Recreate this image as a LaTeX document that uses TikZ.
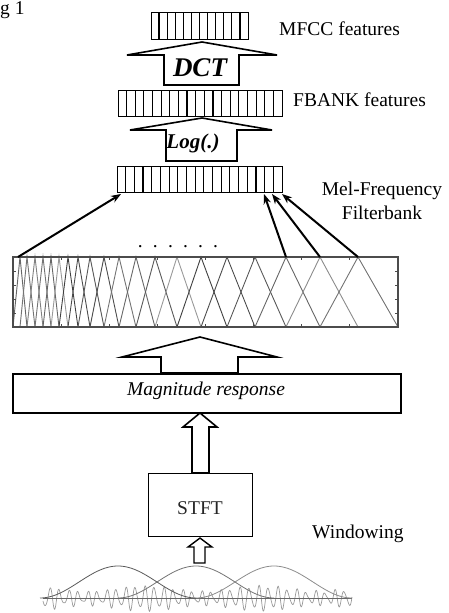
\documentclass[tikz,border=0pt]{standalone}
\usepackage{fontspec}
\setmainfont{Liberation Serif}
\usetikzlibrary{arrows.meta}
\begin{document}
\begin{tikzpicture}[x=1pt,y=-1pt,
  lbl/.style={font=\fontsize{19.5}{24}\selectfont, inner sep=0pt},
  featbox/.style={draw, line width=1.3pt, inner sep=0pt, anchor=north west},
  cell/.style={line width=1.2pt},
  fat/.style={draw, line width=1.6pt, fill=white, line join=miter},
  conn/.style={line width=2pt, -{Stealth[open,length=10pt,width=7.5pt,line width=1.4pt]}},
  frame/.style={draw=black!70, line width=1.2pt},
  tick/.style={draw=black!70, line width=0.8pt}]
\useasboundingbox (0,0) rectangle (448,613);

% top-left fragment
\node[lbl, anchor=base west] (fig) at (0,14) {g 1};

% feature boxes
\node[featbox, minimum width=97pt, minimum height=27pt] (mfcc) at (151,12) {};
\foreach \i in {1,...,11} \draw[cell] (151+\i*97/12,12) -- (151+\i*97/12,39);
\node[featbox, minimum width=164pt, minimum height=26pt] (fbank) at (118,90) {};
\foreach \i in {1,...,18} \draw[cell] (118+\i*164/19,90) -- (118+\i*164/19,116);
\node[featbox, minimum width=165pt, minimum height=26pt] (mel) at (117,166) {};
\foreach \i in {1,...,18} \draw[cell] (117+\i*165/19,166) -- (117+\i*165/19,192);

% labels
\node[lbl, anchor=base west] (lmfcc) at (279,35) {MFCC features};
\node[lbl, anchor=base west] (lfbank) at (293,106) {FBANK features};
\node[lbl, anchor=base] (lmel1) at (382,195) {Mel-Frequency};
\node[lbl, anchor=base] (lmel2) at (382,219) {Filterbank};
\node[lbl, anchor=base west] (lwin) at (312,538) {Windowing};

% DCT arrow
\draw[fat] (164,85) -- (164,55) -- (127,55) -- (202,42) -- (277,55) -- (239,55) -- (239,85) -- cycle;
\node[inner sep=0pt, font=\fontsize{27}{28}\selectfont\bfseries\itshape] (dct) at (200,68) {DCT};
% Log arrow
\draw[fat] (166,161) -- (166,130) -- (130,130) -- (202,118) -- (272,130) -- (237,130) -- (237,161) -- cycle;
\node[inner sep=0pt, font=\fontsize{21}{24}\selectfont\bfseries\itshape] (log) at (193,143) {Log(.)};

% filterbank plot
\foreach \a/\b/\c/\g in {13/20/27/60, 20/27/35/55, 27/35/43/50, 35/43/51/55, 43/51/59/60, 51/59/68/40,
  59/68/78/75, 68/78/90/70, 78/90/104/65, 90/104/119/70, 104/119/136/55, 119/136/155/60,
  136/155/177/65, 155/177/201/40, 177/201/227/75, 201/227/255/70, 227/255/286/65,
  255/286/320/60, 286/320/358/45, 320/358/398/55}
  \draw[black!\g, line width=0.9pt] (\a,327) -- (\b,257) -- (\c,327);
\draw[frame] (13,257) rectangle (398,327);
\node[inner sep=0pt, minimum width=385pt, minimum height=70pt, anchor=north west] (fbplot) at (13,257) {};
\foreach \yy in {271,285,299,313} {
  \draw[tick] (13,\yy) -- (16,\yy);
  \draw[tick] (398,\yy) -- (395,\yy);
}
\foreach \k in {1,...,7} {
  \draw[tick] (13+\k*48.125,327) -- (13+\k*48.125,324);
  \draw[tick] (13+\k*48.125,257) -- (13+\k*48.125,260);
}
\node[lbl, anchor=base] (dots) at (178,247) {.\hskip 10.2pt.\hskip 10.2pt.\hskip 10.2pt.\hskip 10.2pt.\hskip 10.2pt.};

% connectors from filters to mel box
\coordinate (f1) at (18,257);
\coordinate (f18) at (286,257);
\coordinate (f19) at (320,257);
\coordinate (f20) at (358,257);
\coordinate (m1) at (121,194);
\coordinate (m18) at (264,194);
\coordinate (m19) at (272,194);
\coordinate (m20) at (282,194);
\draw[conn] (f1) -- (m1);
\draw[conn] (f18) -- (m18);
\draw[conn] (f19) -- (m19);
\draw[conn] (f20) -- (m20);

% arrow plot <- magnitude
\draw[fat] (161,373) -- (161,357) -- (122,357) -- (200,337) -- (277,357) -- (238,357) -- (238,373) -- cycle;

% magnitude box
\node[draw, line width=1.6pt, inner sep=0pt, minimum width=388pt, minimum height=39pt, anchor=north west] (mag) at (12,373) {};
\node[lbl, font=\fontsize{19.5}{24}\selectfont\itshape] (lmag) at (206,391) {Magnitude response};

% STFT arrow and box
\draw[fat] (192,473) -- (192,427) -- (183,427) -- (200,413) -- (217,427) -- (209,427) -- (209,473) -- cycle;
\node[draw, line width=1.4pt, inner sep=0pt, minimum width=104pt, minimum height=63pt, anchor=north west] (stftbox) at (148,473) {};
\node[lbl, text=black!85] (stft) at (200,508) {STFT};

% small arrow
\draw[fat, line width=1.4pt] (194,563) -- (194,547) -- (188,547) -- (200,538) -- (212,547) -- (205,547) -- (205,563) -- cycle;

% signal
\draw[black!40, line width=0.7pt] plot[domain=43:352, samples=700, smooth]
  (\x, {598 - 11*sin(37.9*\x)*(0.75+0.25*sin(3.1*\x)) - 2.5*sin(57*mod(\x,120)+40)});
\draw[black!60, line width=0.9pt] (43,598) -- (352,598);
% windows
\foreach \a/\g in {40/65, 118/55, 196/45}
  \draw[black!\g, line width=0.8pt] plot[domain=\a:\a+156, samples=80, smooth]
    (\x, {598 - 32*(0.5-0.5*cos(((\x-\a)/156)*360))});
\end{tikzpicture}
\end{document}
